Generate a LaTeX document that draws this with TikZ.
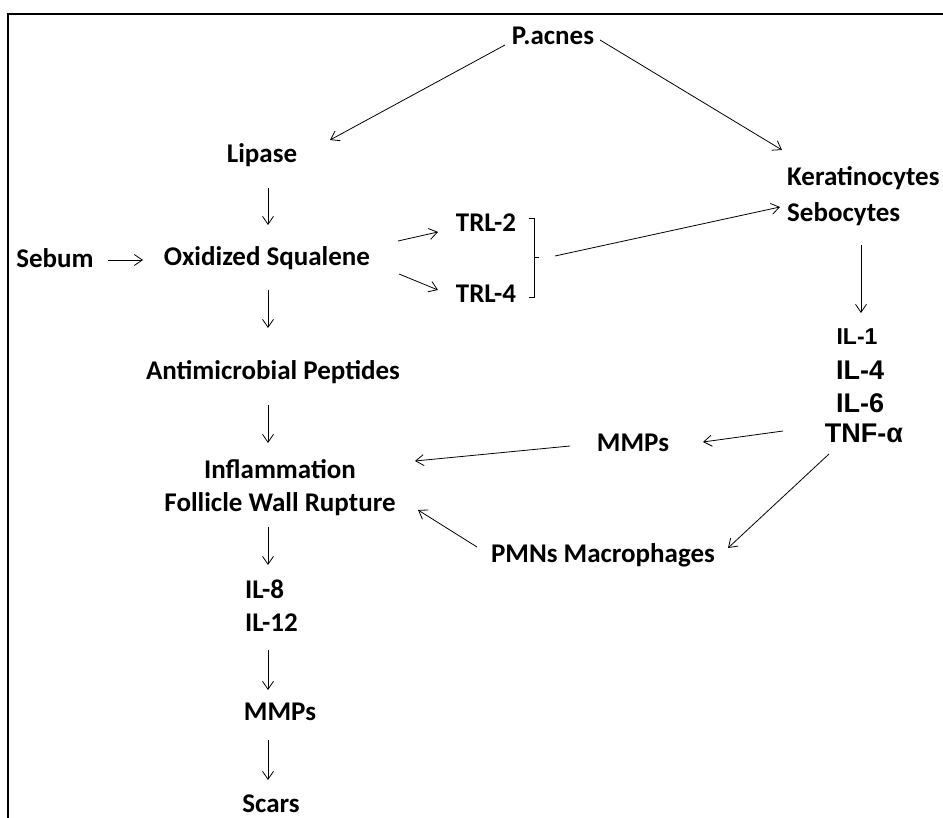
\documentclass[tikz,border=0pt]{standalone}
\usepackage{fontspec}
\setmainfont{Carlito}
\newfontfamily\arialfont{Liberation Sans}
\usetikzlibrary{arrows.meta}

\begin{document}
\begin{tikzpicture}[x=1pt,y=-1pt]
    \tikzset{TextStyle/.style = {font=\fontsize{27}{33}\selectfont\bfseries,inner sep=0},
             CytoStyle/.style = {font=\fontsize{27}{27}\arialfont\bfseries,inner sep=0},
             ArrowStyle/.style = {draw,line width=0.8pt,-{Straight Barb[length=8pt,width=11pt]}}}
    \useasboundingbox (0,0) rectangle (943,818);
    \draw[line width=2pt] (8,818) -- (8,14) -- (943,14);

    \node[TextStyle] at (553,36) (pacnes) {P.acnes};
    \node[TextStyle] at (262,155) (lipase) {Lipase};
    \node[TextStyle,align=left,anchor=west,font=\fontsize{27}{36}\selectfont\bfseries] at (787,196) (kerat) {Keratinocytes\\Sebocytes};
    \node[TextStyle] at (55,258) (sebum) {Sebum};
    \node[TextStyle] at (267,258) (oxsq) {Oxidized Squalene};
    \node[TextStyle] at (486,223) (trl2) {TRL-2};
    \node[TextStyle] at (486,294) (trl4) {TRL-4};
    \node[TextStyle] at (273,372) (antimic) {Antimicrobial Peptides};
    \node[TextStyle,align=center] at (280,488) (inflam) {Inflammation\\Follicle Wall Rupture};
    \node[TextStyle,align=left,anchor=west] at (245,606) (il8) {IL-8\\IL-12};
    \node[TextStyle] at (280,712) (mmpsb) {MMPs};
    \node[TextStyle] at (271,804) (scars) {Scars};
    \node[CytoStyle,font=\fontsize{23}{23}\arialfont\bfseries] at (857,337) (il1) {IL-1};
    \node[CytoStyle] at (860,370) (il4) {IL-4};
    \node[CytoStyle] at (860,403) (il6) {IL-6};
    \node[CytoStyle] at (864,433) (tnf) {TNF-α};
    \node[TextStyle] at (633,443) (mmpsm) {MMPs};
    \node[TextStyle] at (603,555) (pmn) {PMNs Macrophages};

    % bracket joining the two receptors
    \draw[line width=0.8pt] ([shift={(43,-5)}]trl2.center) -- ([shift={(48,-5)}]trl2.center)
        -- ([shift={(48,3)}]trl4.center) -- ([shift={(43,3)}]trl4.center);
    \draw[line width=0.8pt] ([shift={(48,-37)}]trl4.center) -- ([shift={(53,-37)}]trl4.center);
    \coordinate (brk) at ([shift={(69,-38)}]trl4.center);

    \path[ArrowStyle]
        ([shift={(-48,9)}]pacnes.center) -- ([shift={(68,-15)}]lipase.center);
    \path[ArrowStyle]
        ([shift={(47,4)}]pacnes.center) -- ([shift={(-5,-46)}]kerat.west);
    \path[ArrowStyle]
        ([shift={(6,33)}]lipase.center) -- ([shift={(1,-33)}]oxsq.center);
    \path[ArrowStyle]
        ([shift={(53,2)}]sebum.center) -- ([shift={(-124,2)}]oxsq.center);
    \path[ArrowStyle]
        ([shift={(131,-17)}]oxsq.center) -- ([shift={(-48,9)}]trl2.center);
    \path[ArrowStyle]
        ([shift={(132,16)}]oxsq.center) -- ([shift={(-48,-4)}]trl4.center);
    \path[ArrowStyle]
        ([shift={(1,32)}]oxsq.center) -- ([shift={(-5,-44)}]antimic.center);
    \path[ArrowStyle]
        ([shift={(-5,33)}]antimic.center) -- ([shift={(-12,-45)}]inflam.center);
    \path[ArrowStyle]
        ([shift={(-12,39)}]inflam.center) -- ([shift={(23,-41)}]il8.west);
    \path[ArrowStyle]
        ([shift={(23,44)}]il8.west) -- ([shift={(-12,-22)}]mmpsb.center);
    \path[ArrowStyle]
        ([shift={(-12,28)}]mmpsb.center) -- ([shift={(-3,-24)}]scars.center);
    \path[ArrowStyle]
        ([shift={(74,49)}]kerat.west) -- ([shift={(4,-24)}]il1.center);
    \path[ArrowStyle]
        ([shift={(-81,-2)}]tnf.center) -- ([shift={(70,-1)}]mmpsm.center);
    \path[ArrowStyle]
        ([shift={(-63,3)}]mmpsm.center) -- ([shift={(135,-27)}]inflam.center);
    \path[ArrowStyle]
        ([shift={(-35,21)}]tnf.center) -- ([shift={(125,-7)}]pmn.center);
    \path[ArrowStyle]
        ([shift={(-126,-8)}]pmn.center) -- ([shift={(138,22)}]inflam.center);
    \path[ArrowStyle]
        (brk) -- ([shift={(-7,11)}]kerat.west);
\end{tikzpicture}
\end{document}
